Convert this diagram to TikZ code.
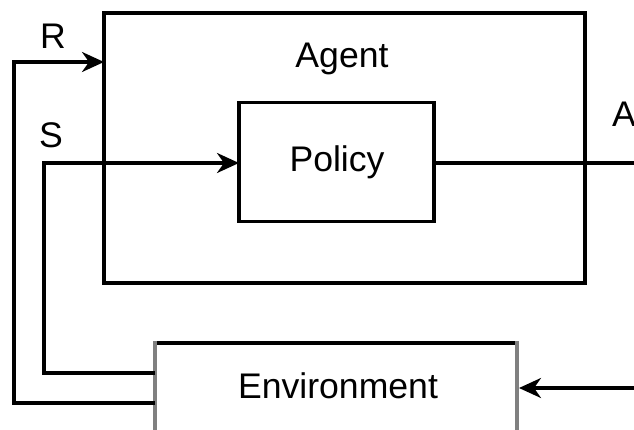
\documentclass[tikz,border=0pt]{standalone}
\usepackage{fontspec}
\setmainfont{Liberation Sans}
\usetikzlibrary{arrows.meta}
\begin{document}
\begin{tikzpicture}[x=1pt,y=-1pt,
  box/.style={draw=black, line width=3.2pt, inner sep=0pt, outer sep=0pt},
  envedge/.style={draw=black, line width=3.2pt},
  envside/.style={draw=black!50, line width=4pt},
  lbl/.style={font=\fontsize{35.6pt}{40pt}\selectfont, inner sep=0pt, outer sep=0pt, anchor=base},
  flow/.style={draw=black, line width=3.2pt},
  tip/.style={-{Stealth[length=22pt,width=20pt,inset=7pt]}}]
  % page frame
  \clip (0,0) rectangle (634,430);

  % boxes
  \node[box, minimum width=481pt, minimum height=270pt] (agent) at (344.5,148) {};
  \node[box, minimum width=195pt, minimum height=119pt] (policy) at (336.5,162) {};
  \node[inner sep=0pt, outer sep=0pt, minimum width=362pt, minimum height=100pt] (env) at (336,393) {};
  \draw[envedge] (env.north west) -- (env.north east);
  \draw[envside] ([yshift=1.6pt]env.north west) -- (env.south west);
  \draw[envside] ([yshift=1.6pt]env.north east) -- (env.south east);

  % labels
  \node[lbl] (agentlbl) at (342,68) {Agent};
  \node[lbl] (policylbl) at (337,172) {Policy};
  \node[lbl] (envlbl) at (338,398) {Environment};
  \node[lbl] (rlbl) at (53,49) {R};
  \node[lbl] (slbl) at (51,148) {S};
  \node[lbl, anchor=base west] (albl) at (612,127) {A};

  % routing points
  \coordinate (rlow) at (14,403);
  \coordinate (rhigh) at (14,62);
  \coordinate (slow) at (44,373);
  \coordinate (shigh) at (44,163);
  \coordinate (aout) at (645,163);
  \coordinate (ein) at (645,388);

  % connectors
  \draw[flow, tip] (env.west |- rlow) -- (rlow) -- (rhigh) -- (agent.west |- rhigh);
  \draw[flow, tip] (env.west |- slow) -- (slow) -- (shigh) -- (policy.west |- shigh);
  \draw[flow] (policy.east |- aout) -- (aout);
  \draw[flow, tip] (ein) -- ([xshift=2pt]env.east |- ein);
\end{tikzpicture}
\end{document}
